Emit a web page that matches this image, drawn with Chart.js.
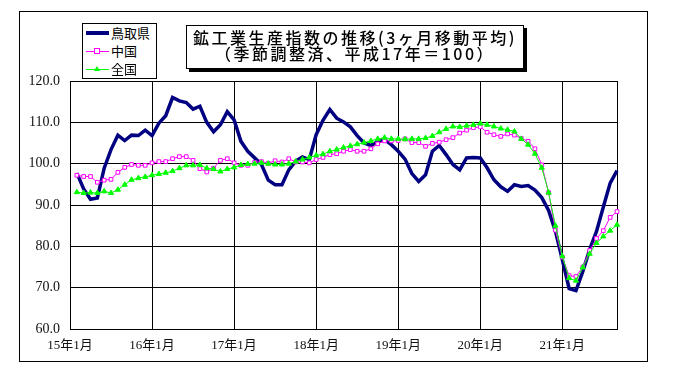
<!DOCTYPE html>
<html>
<head>
<meta charset="utf-8">
<script src="https://cdn.jsdelivr.net/npm/chart.js@4"></script>
<style>
  body { margin:0; background:#fff; }
  #wrap { position:relative; width:679px; height:377px; overflow:hidden; }
  #chart { position:absolute; left:0; top:0; }
  .frame { position:absolute; left:19px; top:11px; width:627px; height:349px; border:1px solid #000; }
  .title-box {
    position:absolute; left:186px; top:25px; width:336px; height:38px;
    border:1px solid #000; background:#fff; box-shadow:3px 3px 0 #000;
    font-family:"Noto Sans CJK JP", sans-serif; font-size:16px; font-weight:500; letter-spacing:2.5px;
    line-height:15.5px; text-align:center; color:#000; padding-top:4px; box-sizing:content-box;
    white-space:nowrap;
  }
  .legend-box {
    position:absolute; left:82px; top:23px; width:73px; height:54px;
    border:1px solid #000; background:#fff;
    font-family:"Noto Sans CJK JP", sans-serif; font-size:13px; color:#000;
  }
  .lg-item { position:absolute; left:0; height:18px; width:73px; }
  .lg-line { position:absolute; left:3px; width:23px; }
  .lg-text { position:absolute; left:28px; top:0; line-height:18px; }
  .lg-sq { position:absolute; left:11px; width:4px; height:4px; border:1px solid #ff00ff; background:#fff; }
  .lg-tri { position:absolute; left:11px; width:0; height:0; border-left:3px solid transparent; border-right:3px solid transparent; border-bottom:5px solid #00ff00; }
</style>
</head>
<body>
<div id="wrap">
  <canvas id="chart" width="679" height="377"></canvas>
  <div class="frame"></div>
  <div class="legend-box" id="legend"></div>
  <div class="title-box">鉱工業生産指数の推移(3ヶ月移動平均)<br>（季節調整済、平成17年＝100）</div>
</div>
<script>
// x = months since 15年1月; first point is 15年2月
const YEAR_LABELS = ['15年1月','16年1月','17年1月','18年1月','19年1月','20年1月','21年1月'];

const TOTTORI = [
  97.7, 93.9, 91.4, 91.7, 98.9, 103.4, 106.9, 105.6, 106.9, 106.8, 108.1,
  106.8, 109.8, 111.6, 116.0, 115.2, 114.8, 113.2, 113.9, 110.0, 107.7, 109.4, 112.6,
  110.6, 105.4, 103.0, 101.4, 99.8, 96.0, 94.9, 94.9, 98.5, 100.6, 101.6, 101.0,
  107.0, 110.5, 113.1, 111.0, 110.1, 108.9, 106.8, 105.0, 104.4, 105.3, 105.8, 104.6,
  103.0, 101.1, 97.6, 95.7, 97.3, 103.0, 104.4, 102.2, 99.8, 98.5, 101.4, 101.5,
  101.4, 99.0, 96.1, 94.4, 93.3, 94.9, 94.5, 94.7, 93.6, 91.8, 88.7, 83.6,
  76.8, 69.8, 69.3, 73.9, 79.2, 83.6, 89.5, 95.3, 98.3
];
const CHUGOKU = [
  97.2, 96.9, 96.9, 95.5, 96.0, 96.2, 97.9, 99.1, 99.8, 99.6, 99.6,
  100.2, 100.5, 100.5, 101.2, 101.7, 101.7, 100.8, 98.8, 98.0, 98.9, 100.8, 101.2,
  100.2, 99.6, 99.6, 100.3, 100.5, 100.1, 100.7, 100.4, 101.2, 100.4, 100.4, 100.2,
  101.0, 101.5, 102.2, 102.4, 103.0, 103.4, 103.0, 103.0, 103.6, 104.8, 105.5, 105.5,
  105.6, 106.0, 105.1, 105.1, 104.2, 104.9, 105.2, 105.8, 106.3, 107.4, 108.1, 108.7,
  108.9, 107.6, 107.0, 106.6, 107.2, 106.9, 106.1, 105.4, 103.6, 99.7, 93.0, 83.9,
  77.4, 72.9, 72.7, 75.0, 79.0, 81.9, 83.8, 87.0, 88.4
];
const ZENKOKU = [
  93.1, 92.9, 93.0, 92.9, 93.3, 92.9, 93.7, 94.9, 96.1, 96.5, 96.8,
  97.2, 97.5, 97.8, 98.2, 98.9, 99.6, 99.6, 99.7, 98.9, 98.7, 98.1, 98.7,
  99.1, 99.7, 99.9, 100.0, 100.2, 100.0, 99.8, 99.8, 100.0, 100.5, 101.0, 101.5,
  102.0, 102.3, 103.0, 103.4, 103.9, 104.3, 104.7, 105.1, 105.5, 106.0, 106.3, 106.0,
  106.0, 105.9, 106.0, 106.0, 106.2, 106.7, 107.6, 108.4, 109.0, 108.9, 109.2, 109.4,
  109.7, 109.4, 109.0, 108.5, 108.2, 107.8, 106.0, 104.6, 102.4, 99.0, 93.0, 85.0,
  77.6, 72.3, 71.7, 74.9, 78.2, 80.8, 82.4, 83.8, 85.2
];

const SERIES = [
  { label:'鳥取県', data:TOTTORI, color:'#000080', width:3.5, point:false,      order:3 },
  { label:'中国',   data:CHUGOKU, color:'#ff00ff', width:1,   point:'rect',     order:2 },
  { label:'全国',   data:ZENKOKU, color:'#00ff00', width:1,   point:'triangle', order:1 }
];

function toPoints(arr) {
  return arr.map((v, i) => ({ x:i+1, y:v }));
}

// legend (hand built, like the boxed Excel legend)
const legend = document.getElementById('legend');
SERIES.forEach((s, i) => {
  const d = document.createElement('div'); d.className = 'lg-item';
  d.style.top = (i*18) + 'px';
  let mk = '';
  if (s.point === 'rect') mk = '<span class="lg-sq" style="top:6px"></span>';
  if (s.point === 'triangle') mk = '<span class="lg-tri" style="top:6px"></span>';
  d.innerHTML = '<span class="lg-line" style="top:'+(9-s.width/2)+'px;height:'+s.width+'px;background:'+s.color+'"></span>'
    + mk + '<span class="lg-text">'+s.label+'</span>';
  legend.appendChild(d);
});

new Chart(document.getElementById('chart'), {
  type: 'line',
  data: {
    datasets: SERIES.map(s => ({
      label: s.label,
      data: toPoints(s.data),
      borderColor: s.color,
      borderWidth: s.width,
      backgroundColor: s.point === 'rect' ? '#ffffff' : s.color,
      pointStyle: s.point || 'circle',
      pointRadius: s.point ? (s.point === 'rect' ? 2.6 : 3) : 0,
      pointBorderWidth: 1,
      pointBorderColor: s.color,
      pointBackgroundColor: s.point === 'rect' ? '#ffffff' : s.color,
      tension: 0,
      order: s.order,
      clip: false
    }))
  },
  options: {
    responsive:false, animation:false, devicePixelRatio:1,
    layout:{ padding:{ left:0, top:81, right:62, bottom:0 } },
    plugins:{ legend:{display:false}, tooltip:{enabled:false} },
    scales:{
      x:{
        type:'linear', min:0, max:80,
        afterFit: sc => { sc.height = 48; },
        grid:{ color:'#000', lineWidth:1, drawTicks:false },
        border:{ color:'#000', width:1 },
        ticks:{
          stepSize:12, autoSkip:false, maxRotation:0, padding:9, color:'#111',
          font:{ family:'"Liberation Serif", "Noto Sans CJK JP", serif', size:13 },
          callback: v => (v % 12 === 0 && YEAR_LABELS[v/12]) ? YEAR_LABELS[v/12] : ''
        }
      },
      y:{
        min:60, max:120,
        afterFit: sc => { sc.width = 70; },
        grid:{ color:'#000', lineWidth:1, drawTicks:false },
        border:{ color:'#000', width:1 },
        ticks:{
          stepSize:10, padding:10, color:'#111',
          font:{ family:'"Liberation Serif", serif', size:14 },
          callback: v => v.toFixed(1)
        }
      }
    }
  }
});
</script>
</body>
</html>
